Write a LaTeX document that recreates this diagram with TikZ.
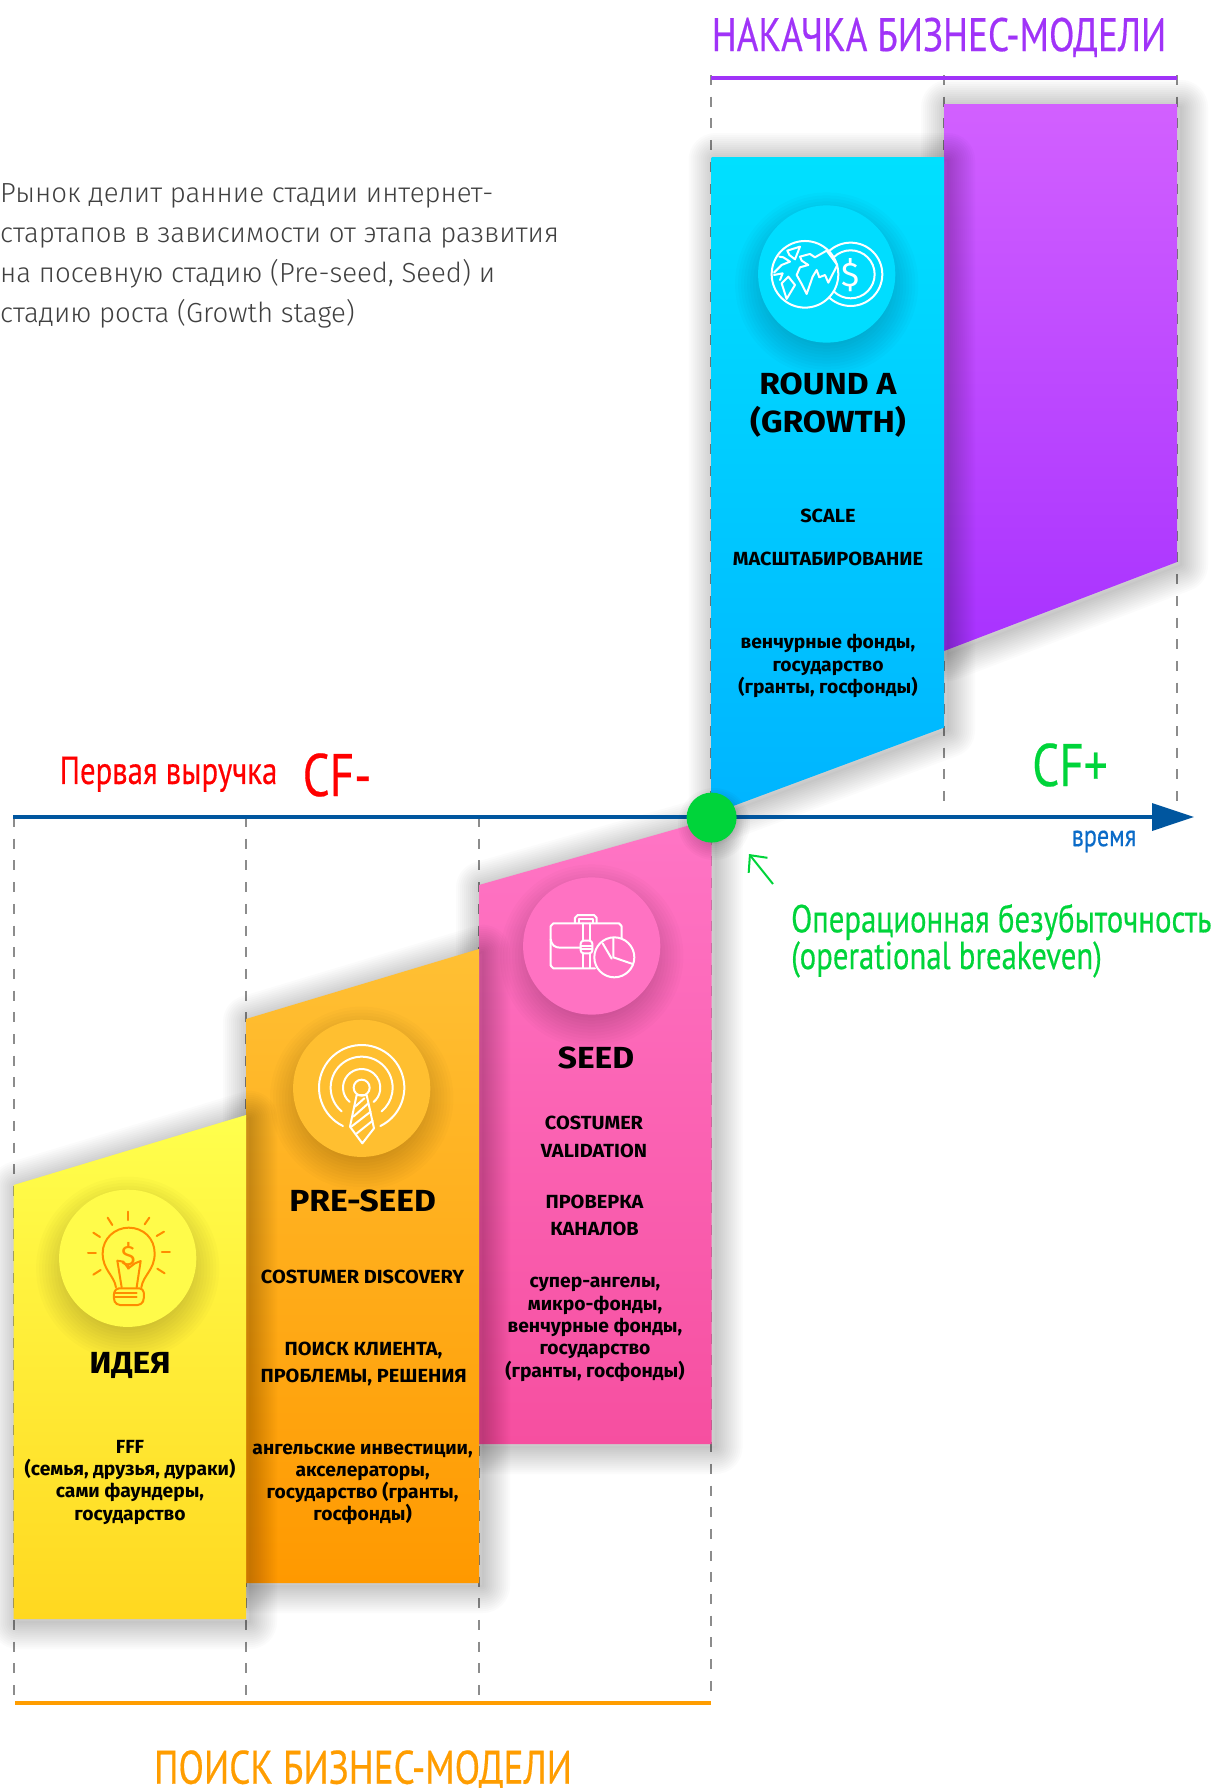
\documentclass[tikz,border=0pt]{standalone}
\usepackage{fontspec}
\setmainfont{Fira Sans}
\newfontfamily\narrowf[FakeStretch=0.79,FakeBold=0.35]{PT Sans}
\newfontfamily\lightf{Fira Sans Light}
\newfontfamily\capsf[FakeStretch=1.05]{Fira Sans}
\newfontfamily\lowerf[FakeStretch=1.015]{Fira Sans}
\newfontfamily\headf[FakeStretch=1.1]{Fira Sans}
\usetikzlibrary{arrows.meta}
\definecolor{axisblue}{HTML}{00569F}
\definecolor{dashgrey}{HTML}{8C8C8C}
\definecolor{titlepurple}{HTML}{A033F8}
\definecolor{titleorange}{HTML}{FF9D00}
\definecolor{signgreen}{HTML}{00D43A}
\tikzset{
  x=1pt,y=-1pt,
  guide/.style={draw=dashgrey,line width=1.8pt,dash pattern=on 10pt off 11.7pt},
  iconline/.style={line width=2pt,line join=round,line cap=round},
  smalllbl/.style={font=\lowerf\bfseries\fontsize{19}{22.3}\selectfont,align=center,text=black,inner sep=0pt},
  oneline/.style={font=\capsf\bfseries\fontsize{19}{22.3}\selectfont,align=center,text=black,inner sep=0pt},
  caplbl/.style={font=\capsf\bfseries\fontsize{19}{27.6}\selectfont,align=center,text=black,inner sep=0pt},
  biglbl/.style={font=\headf\bfseries\fontsize{30.5}{37.6}\selectfont,align=center,text=black,inner sep=0pt},
  narrowlbl/.style={inner sep=0pt,align=left},
}
\newcommand{\softshadow}[1]{%
  \foreach \w in {2,6,...,54}{%
    \path[shift={(4,3)},draw=black,draw opacity=.016,line width=\w pt,line join=round] #1;%
  }}
\newcommand{\discshadow}[3]{%
  \foreach \k in {0,3,...,33}{%
    \fill[black,opacity=.014] (#1,#2+10) circle ({#3-10+\k});%
  }}
\def\polyyellow{(13.7,1185) -- (246,1115) -- (246,1619) -- (13.7,1619) -- cycle}
\def\polyorange{(246,1019) -- (479,949) -- (479,1583) -- (246,1583) -- cycle}
\def\polypink{(479,885) -- (711.6,819) -- (711.6,1444) -- (479,1444) -- cycle}
\def\polyblue{(711.6,157) -- (944,157) -- (944,727.6) -- (711.6,814) -- cycle}
\def\polypurple{(944,104) -- (1177,104) -- (1177,562) -- (944,651) -- cycle}
\begin{document}
\begin{tikzpicture}
\useasboundingbox (0,0) rectangle (1218,1788);
\fill[white] (0,0) rectangle (1218,1788);

% named end points of the guides and rules
\coordinate (g1t) at (13.7,817); \coordinate (g1b) at (13.7,1697);
\coordinate (g2t) at (246,817); \coordinate (g2b) at (246,1697);
\coordinate (g3t) at (479,817); \coordinate (g3b) at (479,1697);
\coordinate (g4t) at (711,75); \coordinate (g4b) at (711,1697);
\coordinate (g5t) at (944,75); \coordinate (g5b) at (944,802);
\coordinate (g6t) at (1177,75); \coordinate (g6b) at (1177,802);
\foreach \n in {1,...,6}{\draw[guide] (g\n t) -- (g\n b);}

% blocks, back to front
\softshadow{\polypurple}
\path[top color={rgb,255:red,210;green,96;blue,255},bottom color={rgb,255:red,168;green,50;blue,255}] \polypurple;
\softshadow{\polyblue}
\path[top color={rgb,255:red,0;green,224;blue,255},bottom color={rgb,255:red,0;green,180;blue,255}] \polyblue;
\softshadow{\polypink}
\path[top color={rgb,255:red,255;green,117;blue,197},bottom color={rgb,255:red,246;green,79;blue,160}] \polypink;
\softshadow{\polyorange}
\path[top color={rgb,255:red,255;green,192;blue,52},bottom color={rgb,255:red,255;green,153;blue,0}] \polyorange;
\softshadow{\polyyellow}
\path[top color={rgb,255:red,255;green,255;blue,77},bottom color={rgb,255:red,255;green,216;blue,32}] \polyyellow;

% icon discs
\discshadow{826.7}{274}{68.6}
\fill[fill={rgb,255:red,0;green,221;blue,255}] (826.7,274) circle (68.6);
\discshadow{591.7}{946}{68.6}
\fill[fill={rgb,255:red,255;green,114;blue,194}] (591.7,946) circle (68.6);
\discshadow{361.7}{1088.3}{68.6}
\fill[fill={rgb,255:red,255;green,191;blue,48}] (361.7,1088.3) circle (68.6);
\discshadow{127.7}{1258.3}{68.6}
\fill[fill={rgb,255:red,255;green,251;blue,74}] (127.7,1258.3) circle (68.6);

% globe and coin icon
\begin{scope}[shift={(700,0)},x=.3333pt,y=-.3333pt,draw=white,iconline]
  \draw (452,823) circle (95);
  \draw (452,823) circle (72);
  \fill[fill={rgb,255:red,0;green,221;blue,255},draw=white] (315,823) circle (100);
  \node[text=white,font=\fontsize{34}{34}\selectfont,inner sep=0pt] (coinsign) at (451,824) {\$};
  \draw (300,770) -- (330,762) -- (345,772) -- (380,752) -- (412,795) -- (385,848) -- (375,825) -- (358,832) -- (350,810) -- (338,830) -- (320,882) -- (305,852) -- (290,825) -- (300,802) -- (325,795) -- (305,782) -- cycle;
  \draw (262,752) -- (300,740) -- (285,778) -- (268,765) -- cycle;
  \draw (222,818) -- (245,795) -- (270,785) -- (250,772) -- (238,770);
  \draw (222,825) -- (248,820) -- (240,840);
  \draw (245,850) -- (265,830) -- (285,855) -- (260,897) -- cycle;
\end{scope}

% case and chart icon
\begin{scope}[shift={(480,850)},x=.3333pt,y=-.3333pt,draw=white,iconline]
  \draw (345,355) -- (220,355) to[out=180,in=90] (212,347) -- (212,228) to[out=-90,in=180] (220,220) -- (417,220) to[out=0,in=-90] (425,228) -- (425,265);
  \draw (212,268) .. controls (214,285) and (225,293) .. (240,293) -- (302,293);
  \draw (285,218) -- (285,203) to[out=-90,in=180] (293,195) -- (342,195) to[out=0,in=-90] (350,203) -- (350,218);
  \draw (296,218) -- (296,206) -- (340,206) -- (340,218);
  \draw (308,220) -- (308,270); \draw (330,220) -- (330,270);
  \draw (308,310) -- (308,353); \draw (330,310) -- (330,353);
  \draw[rounded corners=3pt] (302,272) rectangle (337,310);
  \draw (302,288) -- (337,288); \draw (302,298) -- (337,298);
  \draw (403,322) circle (60);
  \draw (400,265) -- (400,322) -- (458,342);
  \draw (368,280) -- (395,326);
\end{scope}

% antenna and tie icon
\begin{scope}[shift={(260,1000)},x=.3333pt,y=-.3333pt,draw=white,iconline]
  \draw (305,263) circle (24);
  \draw (305,263) ++(130:56) arc[start angle=130,end angle=410,radius=56];
  \draw (305,263) ++(130:93) arc[start angle=130,end angle=410,radius=93];
  \draw (305,263) ++(116:128) arc[start angle=116,end angle=424,radius=128];
  \draw (290,285) -- (320,285) -- (342,385) -- (307,430) -- (270,380) -- cycle;
  \draw (285,320) -- (313,295);
  \draw (280,350) -- (325,310);
  \draw (274,380) -- (332,335);
  \draw (288,402) -- (338,362);
\end{scope}

% bulb icon
\begin{scope}[shift={(40,1170)},x=.3333pt,y=-.3333pt,draw={rgb,255:red,255;green,140;blue,0},iconline]
  \foreach \xa/\ya/\xb/\yb in {265/125/265/150,203/143/217/165,328/143/314/163,160/188/180/201,372/185/350/198,144/250/168/250,366/245/390/245,160/314/182/300,374/310/352/296}{
    \draw (\xa,\ya) -- (\xb,\yb);
  }
  \draw (228,352) .. controls (222,315) and (188,300) .. (188,250) .. controls (188,205) and (225,173) .. (266,173) .. controls (310,173) and (344,205) .. (344,250) .. controls (344,300) and (310,315) .. (304,352);
  \draw (245,352) -- (232,272) -- (250,275) -- (265,295) -- (285,280) -- (302,273) -- (290,352);
  \draw[rounded corners=4pt] (225,355) -- (310,355) -- (313,385) -- (305,405) -- (228,405) -- (220,385) -- cycle;
  \draw (225,368) -- (290,368); \draw (225,382) -- (290,382);
  \node[text={rgb,255:red,255;green,140;blue,0},font=\fontsize{28}{28}\selectfont,inner sep=0pt] (bulbsign) at (265,258) {\$};
\end{scope}

% axis, rules, breakeven
\coordinate (axisstart) at (13,817); \coordinate (axisend) at (1194,817);
\draw[axisblue,line width=3.6pt,-{Triangle[length=42pt,width=27pt]}] (axisstart) -- (axisend);
\coordinate (topl) at (711,77.5); \coordinate (topr) at (1177,77.5);
\draw[titlepurple,line width=4pt] (topl) -- (topr);
\coordinate (botl) at (15,1703); \coordinate (botr) at (711,1703);
\draw[titleorange,line width=4pt] (botl) -- (botr);
\foreach \k in {0,2,...,20}{\fill[black,opacity=.02] (714,824) circle ({16+\k});}
\node[circle,fill=signgreen,minimum size=50pt,inner sep=0pt] (breakeven) at (711.6,817.6) {};
\coordinate (arrowfrom) at (773,884); \coordinate (arrowto) at (749,854);
\draw[signgreen,line width=2pt,-{Straight Barb[length=13pt,width=24pt]}] (arrowfrom) -- (arrowto);

% titles and signs
\node[narrowlbl,text=titlepurple,font=\narrowf\fontsize{47}{47}\selectfont] (toptitle) at (939,37.4) {НАКАЧКА БИЗНЕС-МОДЕЛИ};
\node[narrowlbl,text=titleorange,font=\narrowf\fontsize{47}{47}\selectfont] (bottitle) at (363,1770) {ПОИСК БИЗНЕС-МОДЕЛИ};
\node[narrowlbl,text=red,font=\narrowf\fontsize{39}{39}\selectfont] (firstrev) at (168.5,774.3) {Первая выручка};
\node[narrowlbl,text=red,font=\narrowf\fontsize{60}{60}\selectfont] (cfminus) at (337,775) {CF-};
\node[narrowlbl,text=signgreen,font=\narrowf\fontsize{60}{60}\selectfont] (cfplus) at (1070,765) {CF+};
\node[narrowlbl,text={rgb,255:red,11;green,107;blue,200},font=\narrowf\fontsize{30.5}{30.5}\selectfont] (timelbl) at (1104,841.4) {время};
\node[narrowlbl,anchor=north west,text=signgreen,font=\narrowf\fontsize{39}{33.6}\selectfont] (opbreak) at (791,903.8) {Операционная безубыточность\\[0pt](operational breakeven)};

% intro text
\node[anchor=north west,inner sep=0pt,align=left,text={rgb,255:red,64;green,64;blue,64},font=\lightf\fontsize{27.6}{40}\selectfont] (intro) at (0,183) {Рынок делит ранние стадии интернет-\\стартапов в зависимости от этапа развития\\на посевную стадию (Pre-seed, Seed) и\\стадию роста (Growth stage)};

% blue block labels
\node[biglbl] (bluehead) at (828,405.3) {ROUND A\\(GROWTH)};
\node[oneline] (blue1) at (828,516) {SCALE};
\node[oneline] (blue2) at (828,559) {МАСШТАБИРОВАНИЕ};
\node[smalllbl] (blue3) at (828,666) {венчурные фонды,\\государство\\(гранты, госфонды)};
% pink block labels
\node[biglbl] (pinkhead) at (596,1058) {SEED};
\node[caplbl] (pink1) at (594,1137) {COSTUMER\\VALIDATION};
\node[caplbl] (pink2) at (594.5,1215.6) {ПРОВЕРКА\\КАНАЛОВ};
\node[smalllbl] (pink3) at (595,1329.4) {супер-ангелы,\\микро-фонды,\\венчурные фонды,\\государство\\(гранты, госфонды)};
% orange block labels
\node[biglbl] (orangehead) at (362.6,1201) {PRE-SEED};
\node[oneline] (orange1) at (362.6,1277) {COSTUMER DISCOVERY};
\node[caplbl] (orange2) at (363.6,1364) {ПОИСК КЛИЕНТА,\\ПРОБЛЕМЫ, РЕШЕНИЯ};
\node[smalllbl] (orange3) at (362.6,1484.4) {ангельские инвестиции,\\акселераторы,\\государство (гранты,\\госфонды)};
% yellow block labels
\node[biglbl] (yellowhead) at (130,1365.3) {ИДЕЯ};
\node[smalllbl] (yellow1) at (130,1482.3) {FFF\\(семья, друзья, дураки)\\сами фаундеры,\\государство};
\end{tikzpicture}
\end{document}
